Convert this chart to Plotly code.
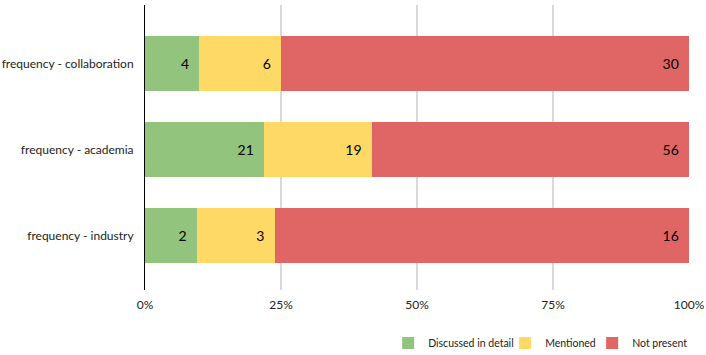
import plotly.graph_objects as go

categories = ["frequency - industry", "frequency - academia", "frequency - collaboration"]
discussed = [2, 21, 4]
mentioned = [3, 19, 6]
not_present = [16, 56, 30]
tick_vals = [0, 25, 50, 75, 100]
tick_text = ["0%", "25%", "50%", "75%", "100%"]

totals = [a + b + c for a, b, c in zip(discussed, mentioned, not_present)]


def pct(vals):
    return [v / t * 100 for v, t in zip(vals, totals)]


series = [
    ("Discussed in detail", discussed, "#93C47D", "legend"),
    ("Mentioned", mentioned, "#FFD966", "legend2"),
    ("Not present", not_present, "#E06666", "legend3"),
]

fig = go.Figure()
for name, vals, color, leg in series:
    fig.add_trace(go.Bar(
        y=categories,
        x=pct(vals),
        name=name,
        orientation="h",
        # nbsp keeps the label off the segment edge, like the original
        text=[str(v) + "\u00a0\u00a0" for v in vals],
        textposition="inside",
        insidetextanchor="end",
        textfont=dict(color="black", size=14),
        marker=dict(color=color, line=dict(width=0)),
        hoverinfo="skip",
        legend=leg,
    ))

# one legend per series so each entry sits where the original puts it
leg_style = dict(orientation="h", y=-0.186, yanchor="middle",
                 xanchor="left", font=dict(size=10.5),
                 bgcolor="rgba(0,0,0,0)")

fig.update_layout(
    barmode="stack",
    bargap=0.35,
    width=706,
    height=355,
    margin=dict(l=145, r=17, t=5, b=65, autoexpand=False),
    plot_bgcolor="white",
    paper_bgcolor="white",
    font=dict(family="Lato", size=12, color="#222"),
    showlegend=True,
    legend=dict(x=0.447, **leg_style),
    legend2=dict(x=0.662, **leg_style),
    legend3=dict(x=0.822, **leg_style),
    uniformtext=dict(minsize=10, mode="show"),
)
fig.update_xaxes(
    range=[0, 100],
    tickvals=tick_vals,
    ticktext=tick_text,
    showgrid=True,
    gridcolor="#D9D9D9",
    gridwidth=2,
    zeroline=False,
    showline=False,
    ticks="",
    ticklabelstandoff=6,
    tickfont=dict(size=12),
    automargin=False,
)
fig.update_yaxes(
    range=[-0.634, 2.68],
    showline=True,
    linecolor="black",
    linewidth=1,
    ticks="",
    ticklabelstandoff=8,
    tickfont=dict(size=12),
    automargin=False,
)

# drop the default 8px body margin so the figure sits at the page corner
fig.write_html("out.html", config={"displayModeBar": False},
               post_script="document.body.style.margin='0';")
